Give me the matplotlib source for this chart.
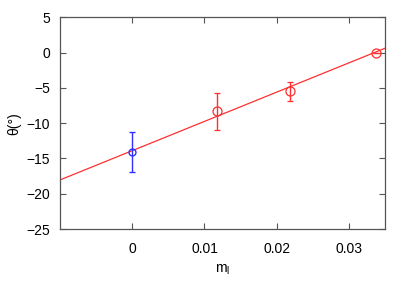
import matplotlib
matplotlib.use('Agg')
import matplotlib.pyplot as plt
import numpy as np

plt.rcParams['font.family'] = ['Liberation Sans', 'DejaVu Sans']
plt.rcParams['mathtext.fontset'] = 'custom'
plt.rcParams['mathtext.rm'] = 'Liberation Sans'

# data
blue_x = [0.0]
blue_y = [-14.1]
blue_err = [2.8]

red_x = [0.0117, 0.0218, 0.0338]
red_y = [-8.3, -5.5, 0.0]
red_err = [2.6, 1.4, 0.0]

# fitted line
fit_slope = 414.7
fit_icpt = -13.9

xticks = [0, 0.01, 0.02, 0.03]
xticklabels = ['0', '0.01', '0.02', '0.03']
yticks = [-25, -20, -15, -10, -5, 0, 5]

fig = plt.figure(figsize=(4.09, 2.86), dpi=100)
ax = fig.add_axes([0.1467, 0.1993, 0.7946, 0.7402])

xl = np.array([-0.01, 0.035])
ax.plot(xl, fit_icpt + fit_slope * xl, color='#ff3030', lw=0.9)

ax.errorbar(red_x, red_y, yerr=red_err, fmt='o', mfc='none', mec='#ff3030',
            ecolor='#ff3030', ms=6.5, mew=0.9, elinewidth=1.0, capsize=2, capthick=1.0)
ax.errorbar(blue_x, blue_y, yerr=blue_err, fmt='o', mfc='none', mec='#3030ff',
            ecolor='#3030ff', ms=5, mew=1.0, elinewidth=1.0, capsize=2, capthick=1.0)

ax.set_xlim(-0.01, 0.035)
ax.set_ylim(-25, 5)
ax.set_xticks(xticks)
ax.set_xticklabels(xticklabels)
ax.set_yticks(yticks)
ax.tick_params(direction='in', top=True, right=True, length=4, width=0.8,
               labelsize=10, color='#555555')
ax.tick_params(axis='x', pad=9)
ax.tick_params(axis='y', pad=7)
for s in ax.spines.values():
    s.set_color('#555555')
    s.set_linewidth(0.9)

ax.set_xlabel(r'm$_\mathrm{l}$', fontsize=10, labelpad=5)
ax.set_ylabel('θ(°)', fontsize=10, labelpad=4)

fig.savefig('out.png', dpi=100)
